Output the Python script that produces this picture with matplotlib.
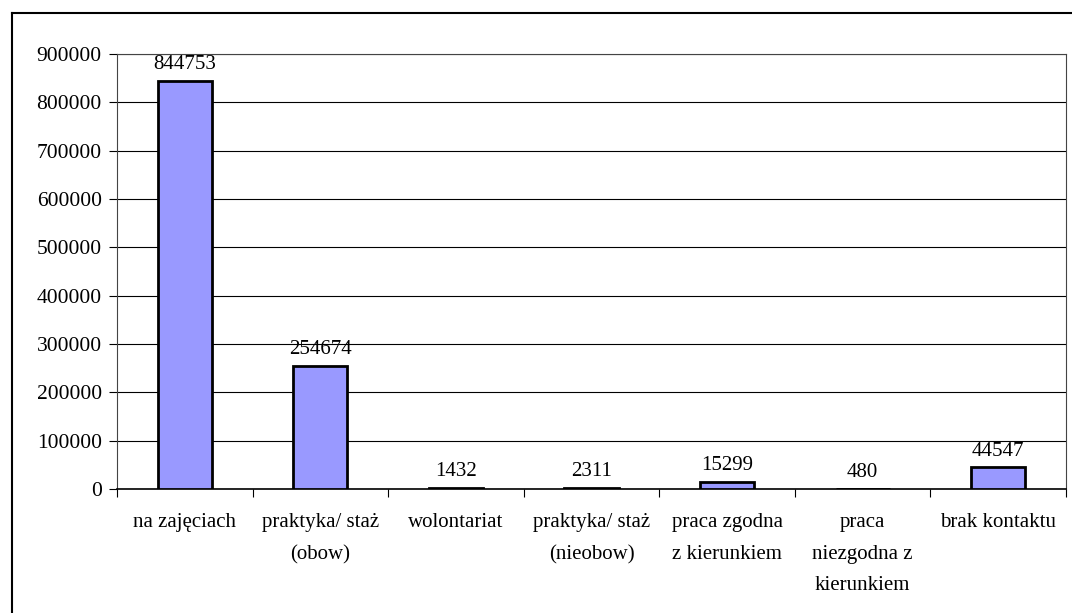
import matplotlib.pyplot as plt
from matplotlib.lines import Line2D

categories = ['na zajęciach', 'praktyka/ staż\n(obow)', 'wolontariat',
              'praktyka/ staż\n(nieobow)', 'praca zgodna\nz kierunkiem',
              'praca\nniezgodna z\nkierunkiem', 'brak kontaktu']
values = [844753, 254674, 1432, 2311, 15299, 480, 44547]
yticks = list(range(0, 900001, 100000))

plt.rcParams['font.family'] = ['Liberation Serif', 'DejaVu Serif']

fig = plt.figure(figsize=(10.72, 6.13), dpi=100)
W, H = 1072, 613
ax = fig.add_axes([117 / W, 1 - 489 / H, (1066 - 117) / W, (489 - 54) / H])

x = list(range(len(values)))
ax.bar(x, values, width=0.4, color='#9999ff', edgecolor='black', linewidth=2, zorder=3)
for xi, v in zip(x, values):
    ax.annotate(str(v), (xi, v), xytext=(0, 5), textcoords='offset points',
                ha='center', va='bottom', fontsize=15)

ax.set_xlim(-0.5, len(values) - 0.5)
ax.set_ylim(0, 900000)
ax.set_yticks(yticks)
ax.set_yticklabels([str(t) for t in yticks], fontsize=15.5)
ax.yaxis.grid(True, color='black', linewidth=0.8, zorder=0)
ax.tick_params(axis='y', length=6, width=0.8, direction='out', pad=5)

# category labels centred, ticks at category boundaries
ax.set_xticks([i + 0.5 for i in range(-1, len(values))])
ax.set_xticklabels([])
ax.tick_params(axis='x', length=6, width=0.8, direction='out')
for xi, lab in zip(x, categories):
    ax.text(xi, -0.055, lab, transform=ax.get_xaxis_transform(), ha='center', va='top',
            fontsize=15, linespacing=1.9)

for s in ['left', 'bottom', 'top', 'right']:
    ax.spines[s].set_color('#444444')
    ax.spines[s].set_linewidth(0.8)
ax.spines['bottom'].set_color('black')
ax.spines['bottom'].set_linewidth(1.2)

# outer chart border (left and top edges visible)
fig.add_artist(Line2D([12 / W, 12 / W], [0, 1 - 13 / H], color='black', lw=1.5))
fig.add_artist(Line2D([12 / W, 1], [1 - 13 / H, 1 - 13 / H], color='black', lw=1.5))

fig.savefig('out.png', dpi=100)
